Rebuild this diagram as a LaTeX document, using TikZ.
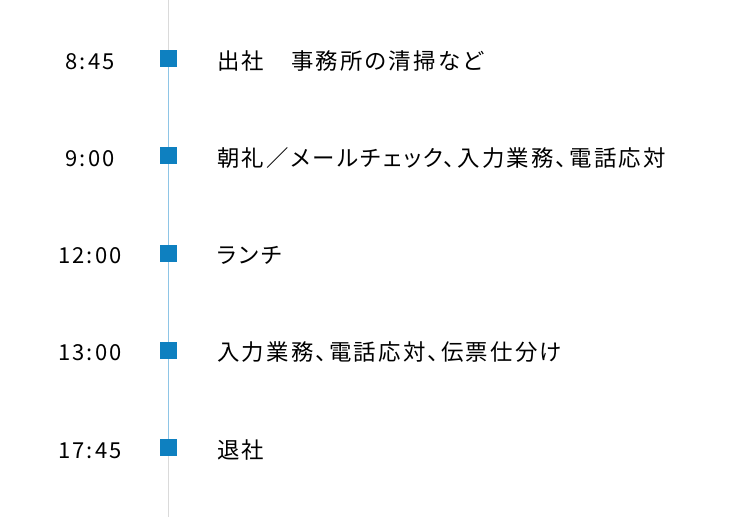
\documentclass[tikz,border=0pt]{standalone}
\usepackage{fontspec}
\setmainfont{Noto Sans CJK JP}[LetterSpace=10,RawFeature=+palt]
\usepackage{tikz}
\usetikzlibrary{backgrounds}

\definecolor{markblue}{HTML}{0E80C0}
\definecolor{lineblue}{HTML}{8EC5E6}
\definecolor{linegray}{HTML}{DADADA}

\begin{document}
\begin{tikzpicture}[x=1pt,y=-1pt,
    dot node/.style={rectangle,fill=markblue,minimum size=17pt,inner sep=0pt},
    time node/.style={anchor=base,inner sep=0pt,font=\fontsize{22pt}{26pt}\selectfont},
    task node/.style={anchor=base west,inner sep=0pt,font=\fontsize{22.4pt}{27pt}\selectfont}]
    \useasboundingbox (0,0) rectangle (736,517);
    \coordinate (top) at (168.5,0);
    \coordinate (bottom) at (168.5,517);

    \foreach \t/\job [count=\i] in {8:45/{出社　事務所の清掃など},
        9:00/{朝礼／メールチェック、入力業務、電話応対},
        12:00/{ランチ},
        13:00/{入力業務、電話応対、伝票仕分け},
        17:45/{退社}} {
      \node[dot node] (d\i) at (168.5,{58.5+97.25*(\i-1)}) {};
      \node[time node] (t\i) at (90,{69+97.25*(\i-1)}) {\t};
      \node[task node] (j\i) at (217,{69+97.25*(\i-1)}) {\job};
    }

    \begin{pgfonlayer}{background}
      \draw[linegray,line width=1.5pt] (top) -- (d1);
      \draw[lineblue,line width=1.6pt] (d1) -- (d5);
      \draw[linegray,line width=1.5pt] (d5) -- (bottom);
    \end{pgfonlayer}
\end{tikzpicture}
\end{document}
